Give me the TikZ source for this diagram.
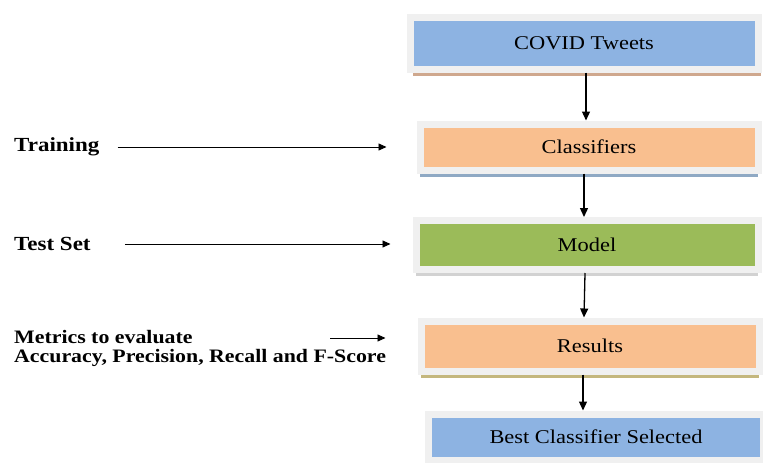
\documentclass[tikz,border=0pt]{standalone}
\usepackage{fontspec}
\setmainfont{Liberation Serif}
\newfontfamily\widefont[FakeStretch=1.15]{Liberation Serif}
\usepackage{tikz}
\usetikzlibrary{positioning,arrows.meta,shadows}

\definecolor{boxblue}{HTML}{8DB3E2}
\definecolor{boxorange}{HTML}{F9BF8F}
\definecolor{boxgreen}{HTML}{9BBB59}
\definecolor{framegray}{HTML}{F0F0F0}
\definecolor{shadebrown}{HTML}{CFA88E}
\definecolor{shadeblue}{HTML}{8FA9C4}
\definecolor{shadeolive}{HTML}{C4B77E}

\begin{document}
\begin{tikzpicture}[
    x=1pt, y=-1pt,
    box/.style={draw=framegray, line width=7pt, minimum height=52pt, inner sep=0pt,
        align=center, font=\widefont\fontsize{19.5}{22}\selectfont},
    lbl/.style={anchor=west, align=left, inner sep=0pt, font=\widefont\bfseries\fontsize{20}{21}\selectfont},
    arr/.style={-{Triangle[length=9pt,width=8pt]}, line width=1.3pt},
    sarr/.style={-{Triangle[length=8pt,width=7pt]}, line width=0.9pt}
]
\useasboundingbox (0,0) rectangle (763,463);

\node[box, fill=boxblue, minimum width=348pt,
    drop shadow={shadow xshift=3pt, shadow yshift=-7pt, fill=shadebrown, opacity=1}]
    (tweets) at (584,43) {COVID Tweets};
\node[box, fill=boxorange, minimum width=338pt, minimum height=46pt,
    drop shadow={shadow xshift=0pt, shadow yshift=-7pt, fill=shadeblue, opacity=1}]
    (clf) at (589,147) {Classifiers};
\node[box, fill=boxgreen, minimum width=342pt, minimum height=49pt,
    drop shadow={shadow xshift=0pt, shadow yshift=-6pt, fill=gray!35, opacity=1}]
    (model) at (587,245) {Model};
\node[box, fill=boxorange, minimum width=338pt, minimum height=50pt,
    drop shadow={shadow xshift=0pt, shadow yshift=-7pt, fill=shadeolive, opacity=1}]
    (res) at (590,346) {Results};
\node[box, fill=boxblue, minimum width=335pt, minimum height=46pt]
    (best) at (596,437) {Best Classifier Selected};

\node[lbl] (train) at (14,147) {Training};
\node[lbl] (test) at (14,244) {Test Set};
\node[lbl, font=\widefont\bfseries\fontsize{19}{19}\selectfont] (metrics) at (14,348)
    {Metrics to evaluate\\Accuracy, Precision, Recall and F-Score};
\coordinate (mstart) at (330,338);

\draw[arr] (tweets.south -| 586,0) -- (clf.north -| 586,0);
\draw[arr] (clf.south -| 584,0) -- (model.north -| 584,0);
\draw[arr] (model.south -| 585,0) -- (res.north -| 584,0);
\draw[arr] (res.south -| 583,0) -- (best.north -| 583,0);

\draw[sarr, shorten <=18pt, shorten >=30pt] (train.east) -- (train.east -| clf.west);
\draw[sarr, shorten <=34pt, shorten >=22pt] (test.east) -- (test.east -| model.west);
\draw[sarr, shorten >=32pt] (mstart) -- (mstart -| res.west);
\end{tikzpicture}
\end{document}
